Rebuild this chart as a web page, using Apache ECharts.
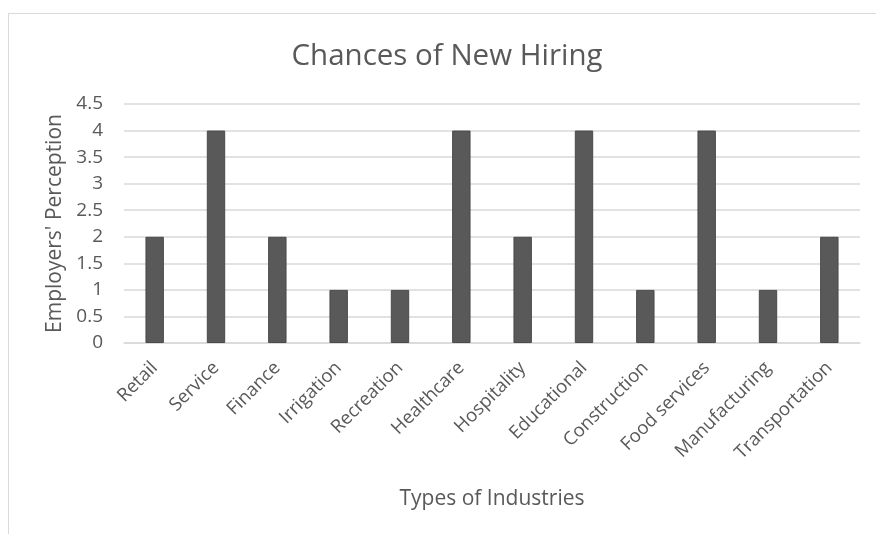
<!DOCTYPE html>
<html>
<head>
<meta charset="utf-8">
<script src="https://cdn.jsdelivr.net/npm/echarts@6/dist/echarts.min.js"></script>
<style>
  html, body { margin: 0; padding: 0; background: #fff; }
  #frame { position: absolute; left: 8px; top: 13px; width: 880px; height: 530px; border: 1px solid #d9d9d9; box-sizing: border-box; }
  #chart { position: absolute; left: 0; top: 0; width: 876px; height: 534px; }
</style>
</head>
<body>
<div id="frame"></div>
<div id="chart"></div>
<script>
// Industries and employers' perceived chances of new hiring
const industries = ['Retail', 'Service', 'Finance', 'Irrigation', 'Recreation', 'Healthcare',
  'Hospitality', 'Educational', 'Construction', 'Food services', 'Manufacturing', 'Transportation'];
const perception = [2, 4, 2, 1, 1, 4, 2, 4, 1, 4, 1, 2];
const yTicks = ['0', '0.5', '1', '1.5', '2', '2.5', '3', '3.5', '4', '4.5'];

const font = '"Open Sans", "Noto Sans", sans-serif';
const chart = echarts.init(document.getElementById('chart'), null, { renderer: 'canvas' });
chart.setOption({
  backgroundColor: 'transparent',
  animation: false,
  title: {
    text: 'Chances of New Hiring',
    left: 442, top: 37, textAlign: 'center',
    textStyle: { fontFamily: font, fontSize: 29.5, fontWeight: 'normal', color: '#595959' }
  },
  grid: { left: 124, right: 16, top: 104, bottom: 191 },
  xAxis: {
    type: 'category',
    data: industries,
    name: 'Types of Industries',
    nameLocation: 'middle',
    nameGap: 146,
    nameTextStyle: { fontFamily: font, fontSize: 21, color: '#595959' },
    axisLine: { show: true, lineStyle: { color: '#d9d9d9', width: 1.5 } },
    axisTick: { show: false },
    axisLabel: { rotate: 45, margin: 22, interval: 0, fontFamily: font, fontSize: 18.5, color: '#595959' }
  },
  yAxis: {
    type: 'value',
    min: 0, max: 4.5, interval: 0.5,
    name: "Employers' Perception",
    nameLocation: 'middle',
    nameGap: 54,
    nameTextStyle: { fontFamily: font, fontSize: 21, color: '#595959' },
    axisLine: { show: false },
    axisTick: { show: false },
    splitLine: { lineStyle: { color: '#d9d9d9', width: 1.5 } },
    axisLabel: {
      margin: 21, fontFamily: font, fontSize: 19, color: '#595959',
      formatter: (v) => yTicks[Math.round(v * 2)]
    }
  },
  series: [{
    type: 'bar',
    data: perception,
    barWidth: '30%',
    itemStyle: { color: '#595959', borderColor: '#4a4a4a', borderWidth: 1 }
  }]
});
</script>
</body>
</html>
